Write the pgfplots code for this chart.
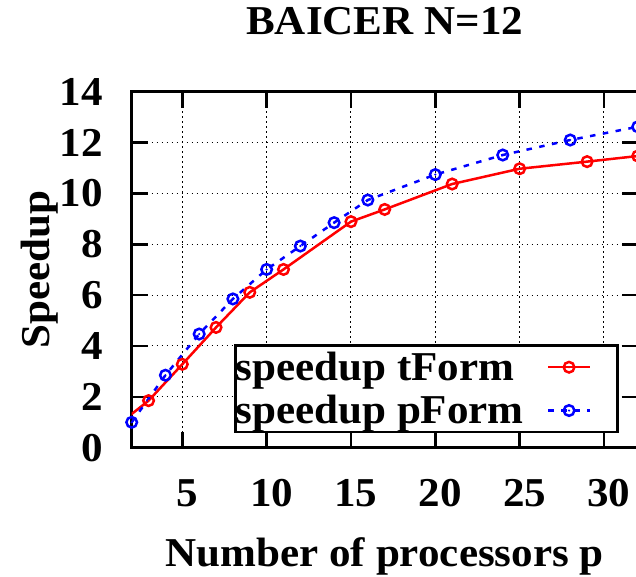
\documentclass[border=0pt]{standalone}
\usepackage{fontspec}
\setmainfont{Liberation Serif}[FakeStretch=1.05]
\usepackage{pgfplots}
\pgfplotsset{compat=1.18}

% gnuplot-style circle with a dot in the middle
\pgfdeclareplotmark{odot}{%
  \pgfpathcircle{\pgfpointorigin}{\pgfplotmarksize}\pgfusepathqstroke
  \pgfpathcircle{\pgfpointorigin}{1.2bp}\pgfusepathqfill}

\begin{document}
\begin{tikzpicture}[font=\fontsize{41bp}{43.3bp}\selectfont\bfseries]
\begin{axis}[
  name=ax,
  scale only axis,
  width=506bp, height=356bp,
  xmin=2, xmax=32, ymin=0, ymax=14,
  xtick={5,10,...,30}, ytick={0,2,...,14},
  tick align=inside,
  major tick length=16bp,
  every tick/.style={black, line width=2.5bp},
  axis line style={line width=2.6bp},
  grid=major,
  major grid style={black, line width=1bp, dash pattern=on 1.5bp off 3.5bp},
  /pgf/number format/assume math mode=true,
  yticklabel style={anchor=east, inner sep=0pt, xshift=-28.7bp},
  xticklabel style={anchor=base, inner sep=0pt, yshift=-59bp, xshift=5bp},
  title={BAICER N=12},
  title style={at={(0.5,1.1452)}, anchor=base, inner sep=0pt},
  xlabel={Number of processors p},
  xlabel style={at={(0.5,-0.3323)}, anchor=base, inner sep=0pt},
  ylabel={Speedup},
  ylabel style={at={(-0.1626,0.5)}, anchor=base, inner sep=0pt},
  legend style={at={(0.2028,0.2904)}, anchor=north west, draw=black,
    line width=2.5bp, fill=white, inner sep=0pt, row sep=0pt, column sep=23bp,
    nodes={inner sep=0pt, text height=35bp, text depth=8.3bp}},
  legend plot pos=right,
  legend cell align=left,
  legend image code/.code={%
    \path (0bp,0bp) (68bp,0bp);
    \draw[#1, mark repeat=2, mark phase=2] plot coordinates {(0bp,0bp) (21bp,0bp) (42bp,0bp)};},
]
\addplot[red, line width=2.5bp, mark=odot, mark size=5.3bp, mark options={solid}] coordinates {
  (1, 0.8)
  (3, 1.85)
  (5, 3.28)
  (7, 4.73)
  (9, 6.11)
  (11, 7.01)
  (15, 8.89)
  (17, 9.37)
  (21, 10.37)
  (25, 10.97)
  (29, 11.25)
  (32, 11.47)
};
\addlegendentry{speedup tForm}
\addplot[blue, line width=2.5bp, dash pattern=on 5.5bp off 7.5bp, mark=odot, mark size=5.3bp, mark options={solid}] coordinates {
  (2, 1.0)
  (4, 2.85)
  (6, 4.47)
  (8, 5.85)
  (10, 7.01)
  (12, 7.93)
  (14, 8.85)
  (16, 9.74)
  (20, 10.74)
  (24, 11.51)
  (28, 12.10)
  (32, 12.62)
};
\addlegendentry{speedup pForm}
\end{axis}
\pgfresetboundingbox
\path[use as bounding box] ([shift={(-131.7bp,-129.3bp)}]ax.south west) rectangle ([shift={(504.3bp,447.7bp)}]ax.south west);
\end{tikzpicture}
\end{document}
